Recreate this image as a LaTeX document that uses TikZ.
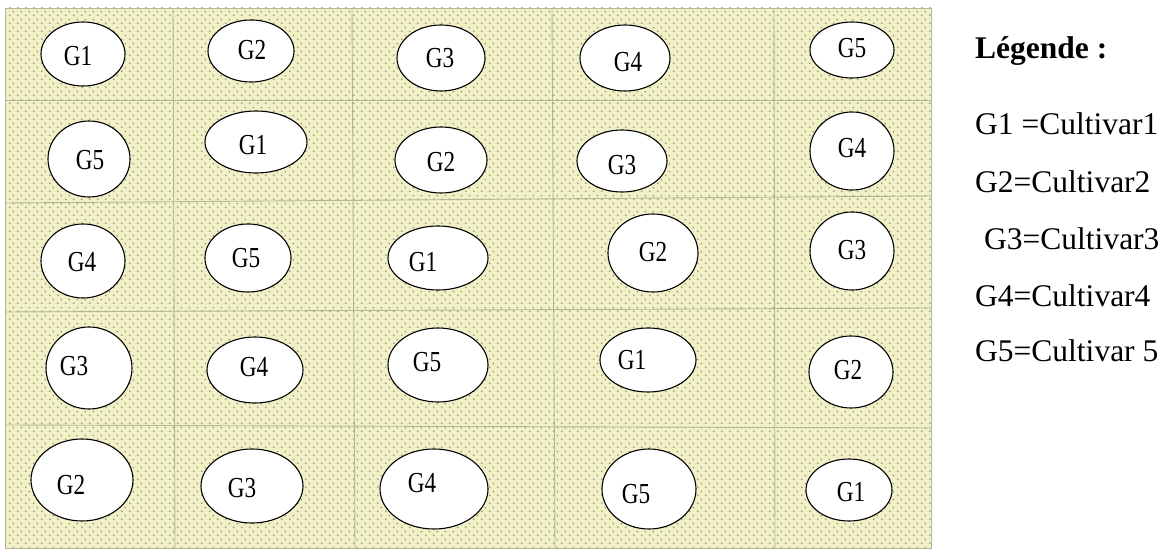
\documentclass[tikz,border=0pt]{standalone}
\usepackage{fontspec}
\setmainfont{Liberation Serif}
\newfontfamily\gfont[FakeStretch=0.8]{Liberation Serif}
\usetikzlibrary{shapes.geometric,patterns}
\definecolor{bgyellow}{RGB}{242,240,198}
\definecolor{dotgreen}{RGB}{130,135,100}
\definecolor{gridgreen}{RGB}{178,182,150}
\pgfdeclarepatternformonly{plotdots}{\pgfpointorigin}{\pgfpoint{8bp}{8bp}}{\pgfpoint{8bp}{8bp}}{%
  \pgfpathcircle{\pgfpoint{2bp}{2bp}}{0.9bp}%
  \pgfpathcircle{\pgfpoint{6bp}{6bp}}{0.9bp}%
  \pgfusepath{fill}}
\tikzset{
  plot/.style={draw=black, line width=1.1bp, fill=white, ellipse, inner sep=0pt},
  glabel/.style={font=\gfont\fontsize{29bp}{34bp}\selectfont, inner sep=0pt, anchor=center},
  legtext/.style={font=\fontsize{31.5bp}{36bp}\selectfont, inner sep=0pt, anchor=base west},
  gridline/.style={draw=gridgreen, line width=0.9bp}
}
\newcommand{\plotcell}[8]{%
  \node[plot, minimum width=#4bp, minimum height=#5bp] (e#1) at (#2,#3) {};
  \node[glabel] (t#1) at (#6,#7) {#8};}
\begin{document}
\begin{tikzpicture}[x=1bp,y=-1bp]
\useasboundingbox (0,0) rectangle (1166,553);
% field background
\fill[bgyellow] (5,8) rectangle (931,548);
\fill[pattern=plotdots, pattern color=dotgreen] (5,8) rectangle (931,548);
% grid
\draw[gridline] (5,8) rectangle (931,548);
\draw[gridline] (5,100) -- (931,100);
\draw[gridline] (5,203) -- (931,196);
\draw[gridline] (5,312) -- (931,308);
\draw[gridline] (5,425) -- (931,428);
\draw[gridline] (173,8) -- (175,548);
\draw[gridline] (352,8) -- (355,548);
\draw[gridline] (552,8) -- (555,548);
\draw[gridline] (774,8) -- (775,548);
% row 1
\plotcell{11}{83}{54}{84}{64}{78}{56}{G1}
\plotcell{12}{251}{51}{86}{62}{252}{50}{G2}
\plotcell{13}{441}{58}{88}{66}{440}{58}{G3}
\plotcell{14}{625}{58}{90}{66}{628}{62}{G4}
\plotcell{15}{852}{50}{84}{56}{852}{48}{G5}
% row 2
\plotcell{21}{89}{159}{82}{76}{90}{160}{G5}
\plotcell{22}{256}{142}{102}{62}{253}{145}{G1}
\plotcell{23}{441}{160}{92}{66}{441}{162}{G2}
\plotcell{24}{622}{161}{90}{62}{622}{165}{G3}
\plotcell{25}{852}{151}{84}{78}{852}{148}{G4}
% row 3
\plotcell{31}{83}{261}{84}{74}{82}{262}{G4}
\plotcell{32}{248}{258}{86}{68}{246}{258}{G5}
\plotcell{33}{438}{258}{100}{64}{423}{262}{G1}
\plotcell{34}{653}{253}{90}{78}{653}{252}{G2}
\plotcell{35}{852}{251}{84}{78}{852}{250}{G3}
% row 4
\plotcell{41}{89}{368}{86}{82}{74}{366}{G3}
\plotcell{42}{255}{370}{96}{66}{254}{367}{G4}
\plotcell{43}{438}{365}{100}{74}{427}{362}{G5}
\plotcell{44}{648}{360}{96}{64}{632}{360}{G1}
\plotcell{45}{851}{372}{84}{72}{848}{370}{G2}
% row 5
\plotcell{51}{82}{480}{102}{82}{71}{485}{G2}
\plotcell{52}{252}{486}{102}{74}{242}{488}{G3}
\plotcell{53}{434}{489}{108}{80}{422}{483}{G4}
\plotcell{54}{649}{489}{94}{80}{636}{494}{G5}
\plotcell{55}{849}{490}{86}{62}{851}{492}{G1}
% legend
\node[legtext, font=\bfseries\fontsize{31.5bp}{36bp}\selectfont] (leg) at (975,59) {Légende :};
\node[legtext] (l1) at (975,135) {G1 =Cultivar1};
\node[legtext] (l2) at (975,193) {G2=Cultivar2};
\node[legtext] (l3) at (984,250) {G3=Cultivar3};
\node[legtext] (l4) at (975,307) {G4=Cultivar4};
\node[legtext] (l5) at (975,362) {G5=Cultivar 5};
\end{tikzpicture}
\end{document}
